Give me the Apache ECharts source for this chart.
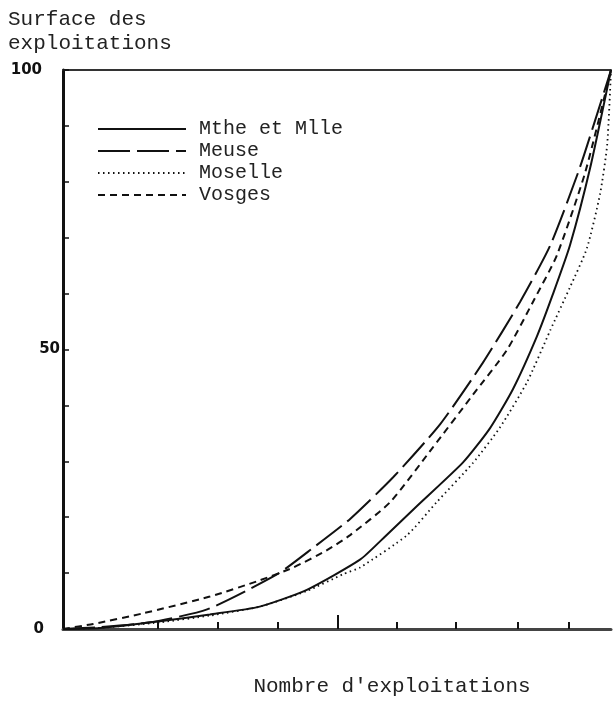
<!DOCTYPE html>
<html>
<head>
<meta charset="utf-8">
<script src="https://cdn.jsdelivr.net/npm/echarts@6/dist/echarts.min.js"></script>
<style>html,body{margin:0;padding:0;background:#fff}#c{width:613px;height:702px}</style>
</head>
<body>
<div id="c"></div>
<script>
// Cumulative % of farms (x) vs cumulative % of area (y)
const seriesNames = ['Mthe et Mlle', 'Meuse', 'Moselle', 'Vosges'];
const mthe = [[0,0],[6.8,0.2],[17.7,1.4],[26.8,2.6],[35.9,4.0],[44.5,7.0],[54.2,12.4],[58.4,16.2],[64.6,22.0],[73.0,29.8],[77.9,35.9],[82.1,42.9],[86.5,52.4],[89.4,59.9],[92.5,68.6],[96.2,82.5],[100,100]];
const meuse = [[0,0],[6.8,0.35],[15.9,1.2],[26.3,3.5],[39.1,9.8],[45.6,14.5],[52.4,19.7],[60.2,27.1],[68.8,36.6],[76.6,47.6],[83.4,58.5],[88.9,68.6],[94.3,82.5],[100,100]];
const moselle = [[0,0],[6.8,0.2],[17.7,1.2],[26.8,2.4],[35.9,4.0],[44.5,6.8],[51.1,9.8],[54.2,11.0],[62.8,16.8],[68.2,22.7],[74.8,29.7],[79.7,36.0],[84.7,44.2],[88.9,53.4],[92.5,61.1],[95.6,68.1],[98.0,77.8],[99.3,86.6],[100,100]];
const vosges = [[0,0],[5.5,0.9],[14.6,2.8],[26.8,5.8],[35.9,8.7],[42.0,11.0],[48.0,14.0],[52.4,16.8],[59.7,22.7],[67.5,32.5],[74.8,41.9],[81.0,49.9],[85.8,58.6],[90.1,66.8],[95.3,81.7],[100,100]];
const xShortTicks = [17.3, 28.3, 39.2, 60.9, 71.7, 83.0, 92.3];
const xLongTicks = [50.2];
const yTickLabels = [0, 50, 100];

const mono = '"Liberation Mono", "DejaVu Sans Mono", monospace';
const sans = '"DejaVu Sans", sans-serif';
const ink = '#111';

const chart = echarts.init(document.getElementById('c'), null, {renderer: 'canvas'});
const base = {type: 'line', showSymbol: false, symbol: 'none', smooth: 0.2, animation: false};
chart.setOption({
  backgroundColor: '#fff',
  animation: false,
  title: {
    text: 'Surface des\nexploitations',
    left: 3, top: 2,
    textStyle: {fontFamily: mono, fontSize: 21, fontWeight: 'normal', color: '#222', lineHeight: 24}
  },
  legend: {
    orient: 'vertical', left: 92, top: 114,
    itemWidth: 88, itemHeight: 14, itemGap: 2,
    itemStyle: {opacity: 0},
    data: seriesNames,
    textStyle: {fontFamily: mono, fontSize: 20, lineHeight: 20, color: '#222', padding: [0, 0, 0, 8]}
  },
  grid: {left: 63, top: 70, right: 2, bottom: 59},
  xAxis: [
    {
      type: 'value', min: 0, max: 100, position: 'bottom',
      name: "Nombre d'exploitations", nameLocation: 'middle', nameGap: 47,
      nameTextStyle: {fontFamily: mono, fontSize: 21, color: '#222', padding: [0, 0, 0, 110]},
      axisLine: {show: true, lineStyle: {color: '#444', width: 3}},
      axisTick: {show: true, inside: true, length: 7, lineStyle: {color: ink, width: 2}, customValues: xShortTicks},
      axisLabel: {show: false}, splitLine: {show: false}
    },
    {
      type: 'value', min: 0, max: 100, position: 'bottom',
      axisLine: {show: false},
      axisTick: {show: true, inside: true, length: 14, lineStyle: {color: ink, width: 2}, customValues: xLongTicks},
      axisLabel: {show: false}, splitLine: {show: false}
    },
    {
      type: 'value', min: 0, max: 100, position: 'top',
      axisLine: {show: true, lineStyle: {color: '#333', width: 2}},
      axisTick: {show: false}, axisLabel: {show: false}, splitLine: {show: false}
    }
  ],
  yAxis: {
    type: 'value', min: 0, max: 100, interval: 10,
    axisLine: {show: true, lineStyle: {color: ink, width: 3}},
    axisTick: {show: true, inside: true, length: 6, lineStyle: {color: ink, width: 1.5}},
    axisLabel: {
      show: true, margin: 3, customValues: yTickLabels,
      fontFamily: sans, fontSize: 15, fontWeight: 'bold', color: '#111',
      formatter: function (v) { return v === 100 ? '{c|100}' : (v === 0 ? '{a|0}' : '{b|' + v + '}'); },
      rich: {
        a: {fontFamily: sans, fontSize: 15, fontWeight: 'bold', color: '#111', padding: [0, 16, 0, 0]},
        b: {fontFamily: sans, fontSize: 15, fontWeight: 'bold', color: '#111', padding: [0, 0, 0, 0]},
        c: {fontFamily: sans, fontSize: 15, fontWeight: 'bold', color: '#111', padding: [0, 18, 0, 0]}
      }
    },
    splitLine: {show: false}
  },
  series: [
    Object.assign({}, base, {name: seriesNames[0], data: mthe, lineStyle: {color: ink, width: 2, type: 'solid'}, itemStyle: {color: ink}}),
    Object.assign({}, base, {name: seriesNames[1], data: meuse, lineStyle: {color: ink, width: 2, type: [32, 7]}, itemStyle: {color: ink}}),
    Object.assign({}, base, {name: seriesNames[2], data: moselle, lineStyle: {color: ink, width: 1.8, type: [1.5, 3.5]}, itemStyle: {color: ink}}),
    Object.assign({}, base, {name: seriesNames[3], data: vosges, lineStyle: {color: ink, width: 2, type: [7, 5]}, itemStyle: {color: ink}})
  ]
});
</script>
</body>
</html>
